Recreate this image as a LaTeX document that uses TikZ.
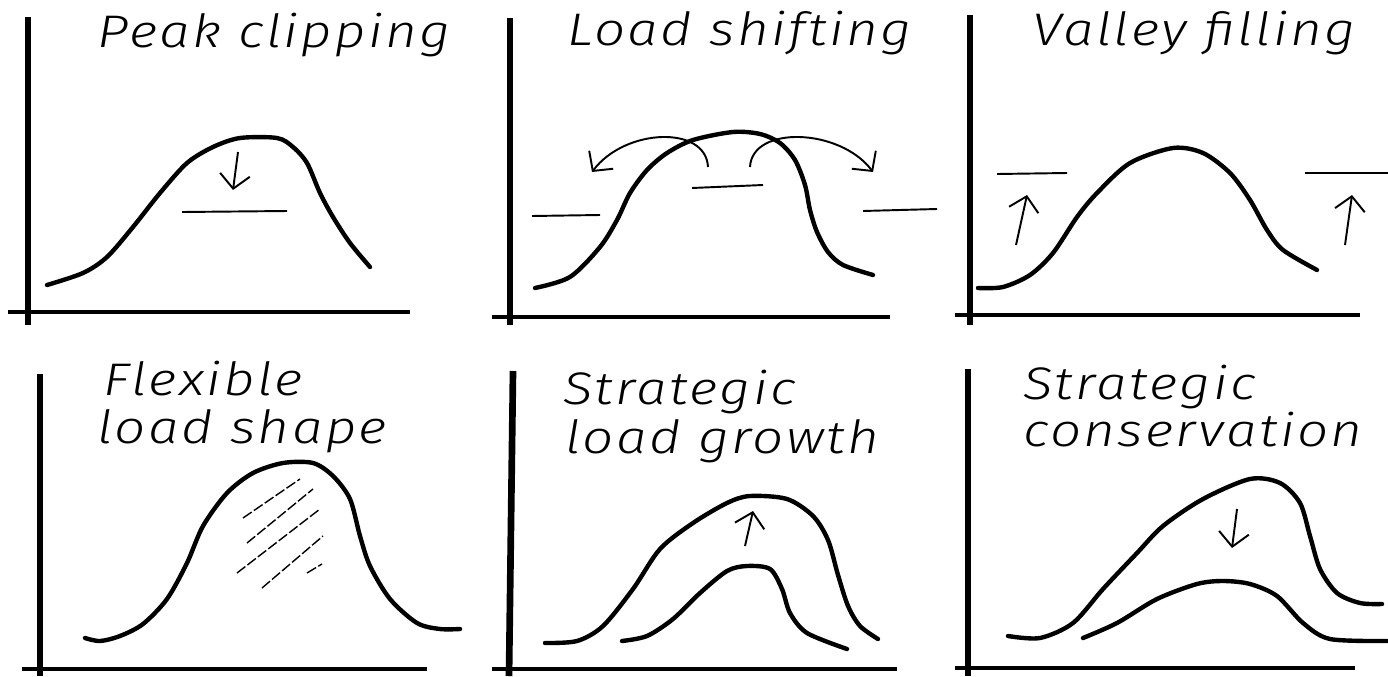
\documentclass[tikz,border=0pt]{standalone}
\usepackage{fontspec}
\newfontfamily\handfont{Fira Sans Light Italic}[FakeStretch=1.2, LetterSpace=5]
\usetikzlibrary{arrows.meta}

\begin{document}
\begin{tikzpicture}[
        x=0.02cm, y=-0.02cm,
        title/.style={
            anchor=base west,
            inner sep=0pt,
            font=\handfont\fontsize{26}{28}\selectfont
        },
        axis/.style={line width=3.8pt},
        baseline/.style={line width=2.3pt},
        load/.style={line width=2.5pt, line cap=round, line join=round},
        level/.style={line width=1.1pt},
        arrow/.style={-{Straight Barb[length=2.8mm, width=6mm]}, line width=1.1pt},
        hatch/.style={line width=0.8pt, dash pattern=on 6pt off 1.5pt}
    ]
    \useasboundingbox[fill=white] (0,0) rectangle (1388,676);

    % Peak clipping
    \draw[axis] (28,17) -- (28,325);
    \draw[baseline] (8,312) -- (410,312);
    \node[title] (pc) at (97,47) {Peak clipping};
    \draw[load] plot[smooth] coordinates {(47,285) (83,273) (107,257) (133,227) (160,193) (187,163) (213,147) (240,138) (277,138) (293,147) (307,163) (320,193) (333,217) (350,243) (370,267)};
    \draw[level] (182,212) -- (287,211);
    \coordinate (pc-a) at (238,152);
    \coordinate (pc-b) at (233,190);
    \draw[arrow] (pc-a) -- (pc-b);

    % Load shifting
    \draw[axis] (510,18) -- (510,325);
    \draw[baseline] (492,317) -- (890,317);
    \node[title] (ls) at (567,45) {Load shifting};
    \draw[load] plot[smooth] coordinates {(535,288) (570,277) (600,247) (617,220) (630,193) (647,170) (667,153) (693,140) (733,132) (760,134) (780,143) (795,160) (805,185) (810,210) (817,232) (828,252) (843,265) (873,275)};
    \draw[level] (532,216) -- (600,215);
    \draw[level] (692,188) -- (763,185);
    \draw[level] (863,211) -- (937,209);
    \coordinate (ls-a) at (708,167);
    \coordinate (ls-b) at (592,172);
    \coordinate (ls-c) at (750,167);
    \coordinate (ls-d) at (873,172);
    \draw[arrow] (ls-a) .. controls (706,125) and (625,128) .. (ls-b);
    \draw[arrow] (ls-c) .. controls (752,125) and (840,128) .. (ls-d);

    % Valley filling
    \draw[axis] (970,15) -- (970,325);
    \draw[baseline] (955,315) -- (1360,315);
    \node[title] (vf) at (1032,45) {Valley filling};
    \draw[load] plot[smooth] coordinates {(978,288) (1003,287) (1030,275) (1053,253) (1077,217) (1097,193) (1130,163) (1173,148) (1203,153) (1230,173) (1250,200) (1267,230) (1283,250) (1317,270)};
    \draw[level] (997,174) -- (1067,173);
    \draw[level] (1305,173) -- (1388,173);
    \coordinate (vf-a) at (1016,245);
    \coordinate (vf-b) at (1027,195);
    \coordinate (vf-c) at (1345,245);
    \coordinate (vf-d) at (1352,195);
    \draw[arrow] (vf-a) -- (vf-b);
    \draw[arrow] (vf-c) -- (vf-d);

    % Flexible load shape
    \draw[axis] (40,374) -- (40,676);
    \draw[baseline] (22,669) -- (427,669);
    \node[title] (fl1) at (103,395) {Flexible};
    \node[title] (fl2) at (97,443) {load shape};
    \draw[load] plot[smooth] coordinates {(85,638) (100,641) (120,636) (143,624) (167,599) (187,563) (203,526) (227,493) (253,473) (283,463) (313,463) (333,476) (350,499) (360,536) (370,566) (390,599) (417,623) (440,629) (460,629)};
    \draw[hatch] (243,518) -- (300,479);
    \draw[hatch] (247,543) -- (313,489);
    \draw[hatch] (237,573) -- (320,509);
    \draw[hatch] (262,588) -- (323,536);
    \draw[hatch] (307,573) -- (322,564);

    % Strategic load growth
    \draw[axis] (513,371) -- (509,676);
    \draw[baseline] (492,669) -- (897,669);
    \node[title] (sg1) at (563,404) {Strategic};
    \node[title] (sg2) at (565,453) {load growth};
    \draw[load] plot[smooth] coordinates {(545,643) (577,641) (603,626) (633,589) (660,549) (693,523) (727,503) (750,496) (787,499) (813,516) (828,540) (838,575) (848,606) (860,626) (878,639)};
    \draw[load] plot[smooth] coordinates {(622,641) (647,636) (673,619) (700,593) (727,571) (747,566) (770,569) (782,589) (790,613) (807,633) (847,649)};
    \coordinate (sg-a) at (745,546);
    \coordinate (sg-b) at (753,511);
    \draw[arrow] (sg-a) -- (sg-b);

    % Strategic conservation
    \draw[axis] (968,369) -- (968,676);
    \draw[baseline] (955,668) -- (1355,668);
    \node[title] (sc1) at (1023,399) {Strategic};
    \node[title] (sc2) at (1023,446) {conservation};
    \draw[load] plot[smooth] coordinates {(1008,636) (1040,638) (1073,623) (1103,589) (1137,553) (1163,526) (1203,499) (1250,479) (1280,483) (1300,503) (1310,536) (1320,569) (1337,593) (1360,603) (1382,604)};
    \draw[load] plot[smooth] coordinates {(1083,638) (1117,623) (1157,599) (1197,584) (1223,581) (1250,584) (1277,596) (1303,623) (1330,639) (1387,641)};
    \coordinate (sc-a) at (1237,509);
    \coordinate (sc-b) at (1232,548);
    \draw[arrow] (sc-a) -- (sc-b);

\end{tikzpicture}
\end{document}
